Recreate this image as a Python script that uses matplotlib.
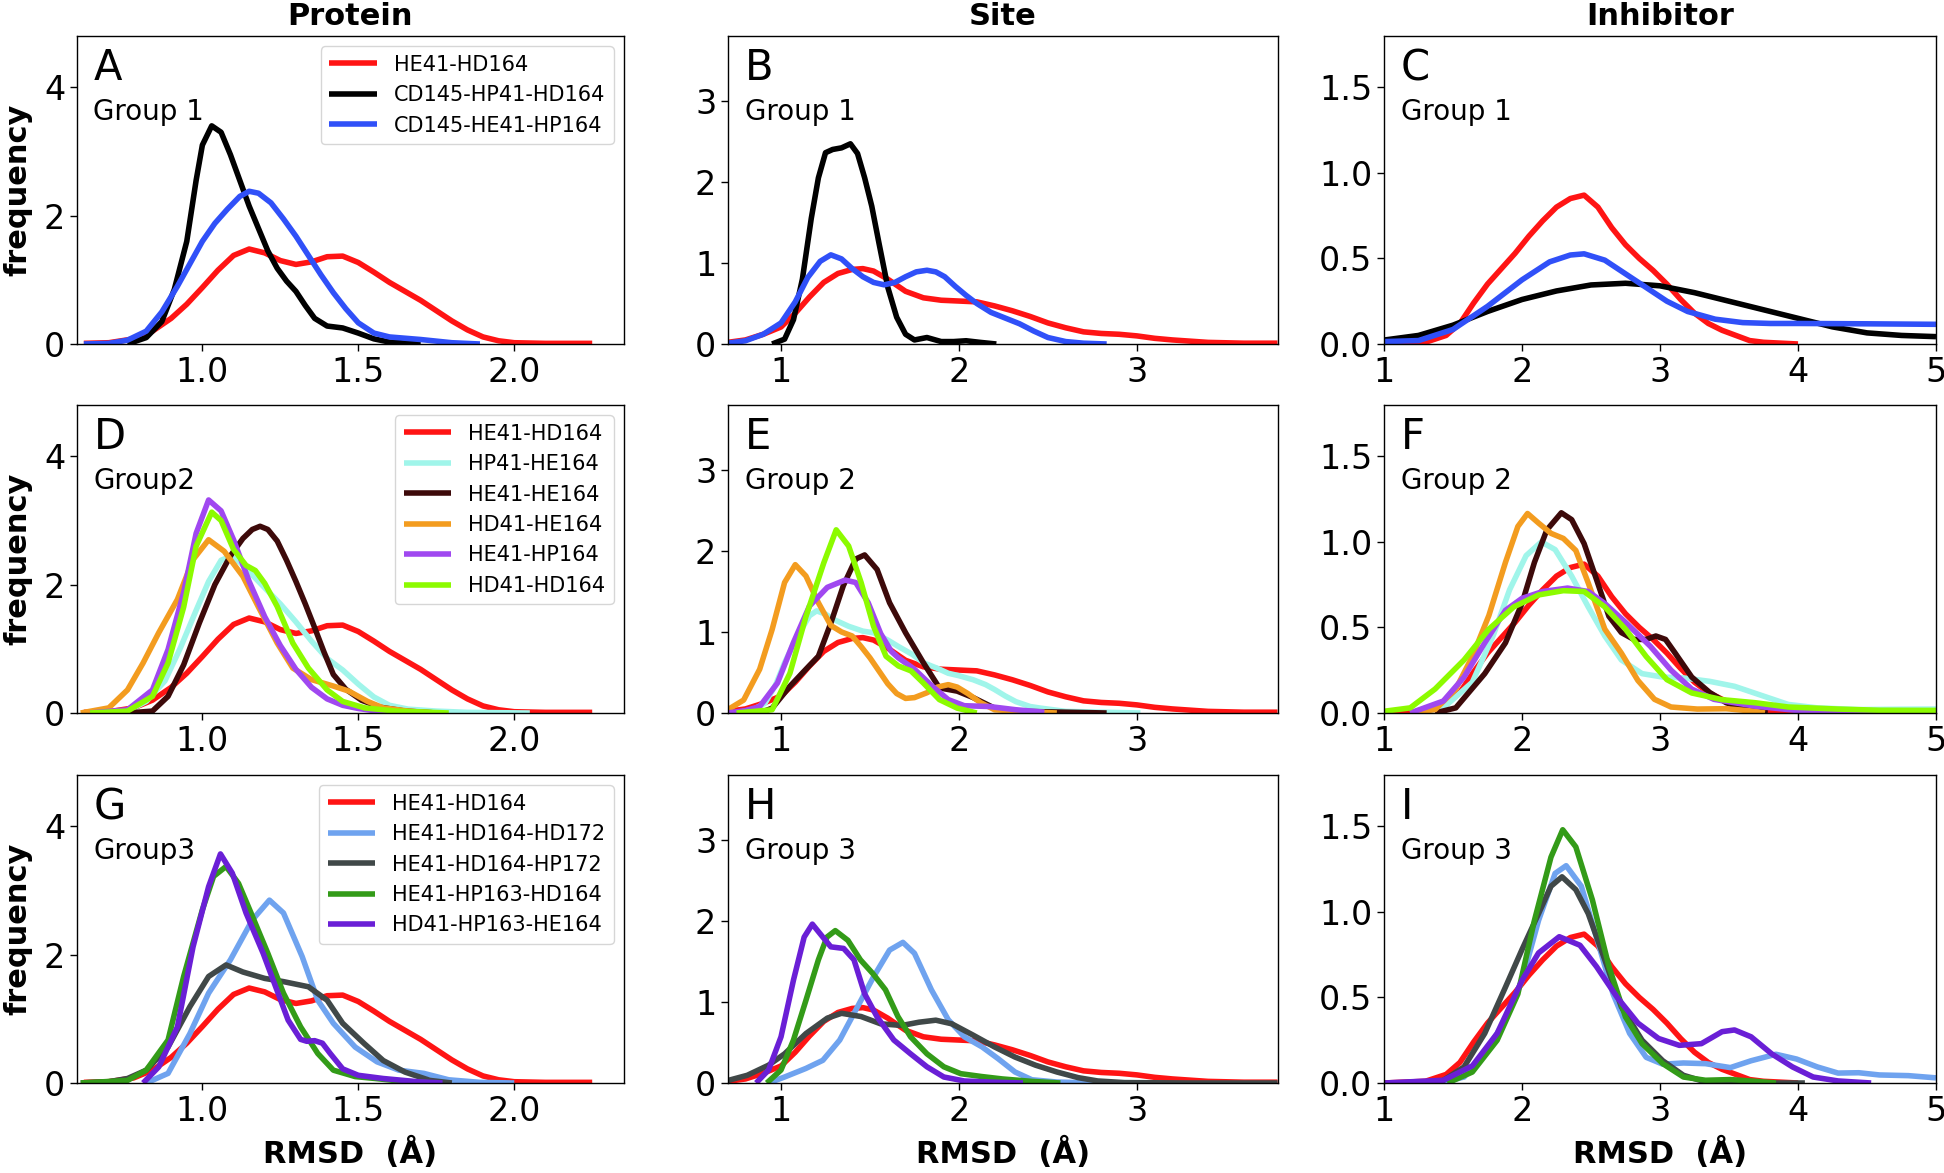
import matplotlib
matplotlib.use("Agg")
import matplotlib.pyplot as plt

# --- reference curve HE41-HD164, read per column ---
prot_ref_x = [0.62, 0.70, 0.78, 0.84, 0.90, 0.95, 1.00, 1.05, 1.10, 1.15, 1.20, 1.25, 1.30, 1.35, 1.40, 1.45,
              1.50, 1.55, 1.60, 1.65, 1.70, 1.75, 1.80, 1.85, 1.90, 1.95, 2.00, 2.10, 2.25]
prot_ref_y = [0.01, 0.02, 0.08, 0.20, 0.40, 0.62, 0.88, 1.15, 1.38, 1.48, 1.42, 1.30, 1.24, 1.28, 1.36, 1.37,
              1.27, 1.12, 0.96, 0.82, 0.68, 0.52, 0.36, 0.22, 0.11, 0.05, 0.02, 0.01, 0.01]
site_ref_x = [0.70, 0.80, 0.90, 1.00, 1.08, 1.16, 1.24, 1.32, 1.40, 1.46, 1.52, 1.60, 1.70, 1.80, 1.90, 2.00,
              2.10, 2.20, 2.30, 2.40, 2.50, 2.60, 2.70, 2.80, 2.90, 3.00, 3.10, 3.20, 3.40, 3.60, 3.79]
site_ref_y = [0.02, 0.05, 0.12, 0.21, 0.38, 0.58, 0.76, 0.87, 0.92, 0.93, 0.90, 0.80, 0.65, 0.57, 0.54, 0.53,
              0.52, 0.47, 0.41, 0.34, 0.26, 0.20, 0.15, 0.13, 0.12, 0.10, 0.07, 0.05, 0.02, 0.01, 0.01]
inh_ref_x = [1.0, 1.3, 1.45, 1.55, 1.65, 1.75, 1.85, 1.95, 2.05, 2.15, 2.25, 2.35, 2.45, 2.55, 2.65, 2.75,
             2.85, 2.95, 3.05, 3.15, 3.25, 3.35, 3.45, 3.55, 3.65, 3.75, 4.0]
inh_ref_y = [0.0, 0.01, 0.05, 0.12, 0.24, 0.35, 0.44, 0.53, 0.63, 0.72, 0.80, 0.85, 0.87, 0.80, 0.68, 0.58,
             0.50, 0.43, 0.35, 0.26, 0.18, 0.12, 0.08, 0.05, 0.02, 0.01, 0.0]

# --- group 1 ---
a_black_x = [0.76, 0.82, 0.87, 0.91, 0.95, 0.98, 1.00, 1.03, 1.06, 1.09, 1.12, 1.15, 1.18, 1.21, 1.24, 1.27,
             1.30, 1.33, 1.36, 1.40, 1.45, 1.50, 1.55, 1.60, 1.70]
a_black_y = [0.0, 0.1, 0.35, 0.85, 1.6, 2.55, 3.1, 3.40, 3.3, 2.95, 2.55, 2.15, 1.8, 1.45, 1.18, 0.98,
             0.82, 0.6, 0.4, 0.28, 0.25, 0.17, 0.08, 0.03, 0.0]
a_blue_x = [0.62, 0.70, 0.76, 0.82, 0.87, 0.92, 0.96, 1.00, 1.04, 1.08, 1.12, 1.15, 1.18, 1.22, 1.26, 1.30,
            1.34, 1.38, 1.42, 1.46, 1.50, 1.55, 1.60, 1.70, 1.80, 1.89]
a_blue_y = [0.0, 0.01, 0.06, 0.2, 0.5, 0.9, 1.25, 1.6, 1.88, 2.1, 2.3, 2.38, 2.35, 2.2, 1.95, 1.68,
            1.38, 1.08, 0.8, 0.55, 0.33, 0.17, 0.11, 0.07, 0.02, 0.0]
b_black_x = [0.95, 1.02, 1.07, 1.12, 1.17, 1.21, 1.25, 1.29, 1.34, 1.39, 1.43, 1.47, 1.51, 1.55, 1.60, 1.65,
             1.70, 1.75, 1.82, 1.90, 1.97, 2.04, 2.12, 2.21]
b_black_y = [0.0, 0.06, 0.3, 0.8, 1.55, 2.05, 2.36, 2.40, 2.42, 2.47, 2.35, 2.05, 1.7, 1.25, 0.7, 0.33,
             0.12, 0.05, 0.08, 0.03, 0.03, 0.04, 0.02, 0.0]
b_blue_x = [0.70, 0.80, 0.90, 1.00, 1.08, 1.15, 1.22, 1.28, 1.34, 1.40, 1.46, 1.52, 1.58, 1.64, 1.70, 1.76,
            1.82, 1.87, 1.92, 1.98, 2.04, 2.10, 2.18, 2.26, 2.34, 2.42, 2.50, 2.60, 2.70, 2.83]
b_blue_y = [0.01, 0.04, 0.12, 0.26, 0.52, 0.82, 1.02, 1.10, 1.05, 0.93, 0.83, 0.76, 0.73, 0.76, 0.83, 0.89,
            0.91, 0.89, 0.83, 0.71, 0.60, 0.50, 0.39, 0.32, 0.25, 0.16, 0.08, 0.03, 0.01, 0.0]
c_black_x = [1.0, 1.25, 1.5, 1.75, 2.0, 2.25, 2.5, 2.75, 3.0, 3.25, 3.5, 3.75, 4.0, 4.25, 4.5, 4.75, 5.0]
c_black_y = [0.023, 0.05, 0.11, 0.19, 0.26, 0.31, 0.345, 0.355, 0.34, 0.30, 0.25, 0.20, 0.15, 0.10, 0.065,
             0.05, 0.043]
c_blue_x = [1.0, 1.25, 1.5, 1.75, 2.0, 2.2, 2.35, 2.45, 2.6, 2.75, 2.9, 3.05, 3.2, 3.4, 3.6, 3.8, 4.0, 4.5, 5.0]
c_blue_y = [0.014, 0.02, 0.085, 0.22, 0.375, 0.48, 0.52, 0.527, 0.49, 0.41, 0.33, 0.25, 0.19, 0.145, 0.125,
            0.12, 0.12, 0.118, 0.115]

# --- group 2 ---
d_aqua_x = [0.64, 0.76, 0.82, 0.88, 0.93, 0.98, 1.02, 1.06, 1.09, 1.12, 1.16, 1.20, 1.25, 1.30, 1.35, 1.40,
            1.45, 1.50, 1.55, 1.60, 1.66, 1.75, 1.85, 2.05]
d_aqua_y = [0.0, 0.03, 0.18, 0.5, 1.02, 1.6, 2.05, 2.38, 2.44, 2.35, 2.15, 1.95, 1.7, 1.42, 1.12, 0.85,
            0.67, 0.45, 0.25, 0.12, 0.06, 0.03, 0.01, 0.0]
d_brown_x = [0.76, 0.84, 0.89, 0.94, 0.99, 1.04, 1.09, 1.13, 1.16, 1.185, 1.21, 1.24, 1.27, 1.30, 1.33, 1.36,
             1.39, 1.42, 1.46, 1.51, 1.57, 1.65, 1.75]
d_brown_y = [0.0, 0.03, 0.26, 0.75, 1.4, 2.0, 2.45, 2.72, 2.86, 2.91, 2.86, 2.68, 2.38, 2.05, 1.7, 1.33,
             0.95, 0.6, 0.37, 0.2, 0.09, 0.03, 0.0]
d_orange_x = [0.61, 0.70, 0.76, 0.81, 0.86, 0.92, 0.97, 1.02, 1.07, 1.13, 1.18, 1.24, 1.29, 1.35, 1.42, 1.47,
              1.53, 1.58, 1.66, 1.75]
d_orange_y = [0.0, 0.08, 0.36, 0.78, 1.25, 1.77, 2.39, 2.70, 2.52, 2.13, 1.65, 1.09, 0.70, 0.52, 0.42, 0.34,
              0.18, 0.08, 0.03, 0.0]
d_purple_x = [0.64, 0.76, 0.84, 0.89, 0.94, 0.98, 1.02, 1.06, 1.10, 1.15, 1.20, 1.25, 1.30, 1.35, 1.40, 1.45,
              1.50, 1.56, 1.65]
d_purple_y = [0.0, 0.05, 0.36, 0.99, 1.88, 2.8, 3.32, 3.15, 2.7, 2.05, 1.5, 1.05, 0.68, 0.40, 0.22, 0.12,
              0.07, 0.03, 0.0]
d_lime_x = [0.64, 0.76, 0.84, 0.89, 0.94, 0.98, 1.03, 1.06, 1.10, 1.14, 1.17, 1.20, 1.24, 1.29, 1.34, 1.40,
            1.45, 1.52, 1.62, 1.79]
d_lime_y = [0.0, 0.03, 0.26, 0.78, 1.65, 2.6, 3.13, 3.0, 2.55, 2.3, 2.22, 2.02, 1.66, 1.09, 0.70, 0.36,
            0.18, 0.08, 0.03, 0.0]
e_aqua_x = [0.75, 0.85, 0.91, 0.97, 1.02, 1.07, 1.12, 1.16, 1.20, 1.25, 1.30, 1.38, 1.46, 1.52, 1.60, 1.66,
            1.74, 1.80, 1.88, 1.94, 2.00, 2.08, 2.15, 2.20, 2.26, 2.32, 2.40, 2.46, 2.60, 2.80, 3.02]
e_aqua_y = [0.0, 0.05, 0.12, 0.35, 0.62, 0.85, 1.05, 1.2, 1.26, 1.22, 1.15, 1.07, 1.01, 0.99, 0.9, 0.82,
            0.72, 0.62, 0.55, 0.49, 0.46, 0.41, 0.35, 0.29, 0.21, 0.14, 0.08, 0.06, 0.02, 0.01, 0.0]
e_brown_x = [0.88, 0.95, 1.05, 1.14, 1.21, 1.28, 1.35, 1.42, 1.47, 1.54, 1.61, 1.70, 1.80, 1.89, 1.99, 2.08,
             2.20, 2.36, 2.60, 2.83]
e_brown_y = [0.0, 0.06, 0.33, 0.54, 0.70, 1.11, 1.57, 1.90, 1.95, 1.77, 1.36, 0.99, 0.62, 0.31, 0.27, 0.19,
             0.06, 0.02, 0.01, 0.0]
e_orange_x = [0.70, 0.79, 0.88, 0.95, 1.02, 1.08, 1.14, 1.21, 1.28, 1.34, 1.40, 1.45, 1.50, 1.55, 1.60, 1.65,
              1.70, 1.75, 1.82, 1.88, 1.94, 1.99, 2.05, 2.12, 2.20, 2.35, 2.55]
e_orange_y = [0.04, 0.16, 0.54, 1.03, 1.61, 1.83, 1.69, 1.36, 1.08, 1.0, 0.95, 0.82, 0.68, 0.52, 0.36, 0.24,
              0.18, 0.19, 0.25, 0.32, 0.35, 0.32, 0.24, 0.13, 0.04, 0.02, 0.0]
e_purple_x = [0.70, 0.80, 0.88, 0.98, 1.07, 1.16, 1.26, 1.36, 1.42, 1.49, 1.56, 1.62, 1.66, 1.75, 1.85, 1.94,
              2.03, 2.17, 2.32, 2.48]
e_purple_y = [0.0, 0.03, 0.08, 0.37, 0.87, 1.32, 1.55, 1.64, 1.61, 1.36, 0.98, 0.76, 0.68, 0.54, 0.33, 0.165,
              0.09, 0.08, 0.04, 0.01]
e_lime_x = [0.75, 0.95, 1.05, 1.14, 1.24, 1.31, 1.38, 1.45, 1.52, 1.59, 1.66, 1.73, 1.80, 1.89, 1.99, 2.10]
e_lime_y = [0.0, 0.04, 0.49, 1.19, 1.85, 2.26, 2.06, 1.61, 1.07, 0.70, 0.58, 0.52, 0.37, 0.165, 0.06, 0.0]
f_aqua_x = [1.19, 1.43, 1.64, 1.79, 1.91, 2.03, 2.14, 2.24, 2.36, 2.48, 2.60, 2.72, 2.87, 3.02, 3.17, 3.36,
            3.54, 3.72, 3.93, 4.14, 4.44, 4.75, 5.0]
f_aqua_y = [0.0, 0.03, 0.18, 0.45, 0.72, 0.92, 1.0, 0.955, 0.80, 0.62, 0.45, 0.31, 0.23, 0.21, 0.205, 0.185,
            0.156, 0.107, 0.05, 0.03, 0.02, 0.022, 0.023]
f_brown_x = [1.37, 1.52, 1.73, 1.88, 2.0, 2.09, 2.18, 2.285, 2.36, 2.45, 2.54, 2.63, 2.72, 2.81, 2.90, 2.97,
             3.04, 3.11, 3.23, 3.36, 3.48, 3.63, 3.78]
f_brown_y = [0.0, 0.03, 0.23, 0.41, 0.64, 0.88, 1.07, 1.17, 1.13, 0.99, 0.78, 0.565, 0.47, 0.43, 0.43, 0.45,
             0.43, 0.35, 0.21, 0.12, 0.06, 0.02, 0.0]
f_orange_x = [1.19, 1.37, 1.52, 1.64, 1.76, 1.88, 1.97, 2.04, 2.12, 2.21, 2.30, 2.39, 2.48, 2.60, 2.72, 2.84,
              2.96, 3.08, 3.27, 3.48, 3.69, 3.76]
f_orange_y = [0.0, 0.02, 0.14, 0.33, 0.57, 0.88, 1.09, 1.166, 1.11, 1.05, 1.02, 0.95, 0.76, 0.49, 0.35, 0.19,
              0.08, 0.035, 0.023, 0.025, 0.01, 0.0]
f_purple_x = [1.19, 1.43, 1.58, 1.73, 1.88, 2.0, 2.15, 2.33, 2.48, 2.60, 2.75, 2.93, 3.08, 3.23, 3.39, 3.54,
              3.69, 3.99, 4.29, 4.6]
f_purple_y = [0.0, 0.07, 0.21, 0.41, 0.60, 0.67, 0.71, 0.73, 0.71, 0.64, 0.53, 0.39, 0.25, 0.14, 0.08, 0.06,
              0.04, 0.015, 0.005, 0.0]
f_lime_x = [1.0, 1.19, 1.37, 1.58, 1.76, 1.94, 2.12, 2.30, 2.45, 2.60, 2.75, 2.90, 3.05, 3.23, 3.45, 3.69,
            3.93, 4.29, 4.59, 5.0]
f_lime_y = [0.01, 0.03, 0.14, 0.31, 0.49, 0.62, 0.69, 0.715, 0.71, 0.62, 0.49, 0.33, 0.195, 0.117, 0.078,
            0.06, 0.035, 0.023, 0.016, 0.015]

# --- group 3 ---
g_lblue_x = [0.82, 0.89, 0.96, 1.02, 1.09, 1.16, 1.215, 1.26, 1.32, 1.37, 1.42, 1.49, 1.56, 1.63, 1.71, 1.79,
             1.89, 2.0]
g_lblue_y = [0.0, 0.15, 0.77, 1.40, 1.92, 2.54, 2.85, 2.65, 1.97, 1.29, 0.93, 0.56, 0.33, 0.20, 0.15, 0.05,
             0.01, 0.0]
g_gray_x = [0.61, 0.70, 0.76, 0.82, 0.89, 0.96, 1.02, 1.076, 1.13, 1.20, 1.26, 1.34, 1.40, 1.45, 1.52, 1.58,
            1.65, 1.73, 1.80]
g_gray_y = [0.0, 0.02, 0.07, 0.2, 0.56, 1.19, 1.66, 1.84, 1.73, 1.63, 1.58, 1.50, 1.29, 0.93, 0.61, 0.35,
            0.17, 0.04, 0.0]
g_green_x = [0.61, 0.76, 0.82, 0.89, 0.94, 1.0, 1.036, 1.076, 1.116, 1.156, 1.21, 1.26, 1.315, 1.37, 1.42,
             1.49, 1.555, 1.634, 1.74]
g_green_y = [0.0, 0.04, 0.2, 0.67, 1.66, 2.70, 3.22, 3.375, 3.11, 2.65, 2.02, 1.40, 0.875, 0.46, 0.20,
             0.10, 0.07, 0.03, 0.0]
g_violet_x = [0.81, 0.86, 0.92, 0.97, 1.02, 1.058, 1.096, 1.14, 1.195, 1.235, 1.275, 1.315, 1.335, 1.36,
              1.385, 1.41, 1.45, 1.50, 1.58, 1.69, 1.77]
g_violet_y = [0.0, 0.25, 0.875, 2.12, 3.06, 3.57, 3.27, 2.65, 2.02, 1.5, 0.98, 0.68, 0.65, 0.66,
              0.62, 0.46, 0.22, 0.12, 0.07, 0.02, 0.0]
h_lblue_x = [0.93, 1.02, 1.14, 1.235, 1.33, 1.42, 1.52, 1.61, 1.685, 1.75, 1.845, 1.94, 2.03, 2.13, 2.22,
             2.315, 2.41, 2.55, 2.76]
h_lblue_y = [0.0, 0.074, 0.18, 0.28, 0.53, 0.90, 1.31, 1.64, 1.735, 1.60, 1.15, 0.78, 0.57, 0.445, 0.30,
             0.136, 0.04, 0.012, 0.0]
h_gray_x = [0.70, 0.81, 0.93, 1.02, 1.14, 1.26, 1.34, 1.45, 1.56, 1.68, 1.775, 1.87, 1.96, 2.08, 2.20, 2.315,
            2.43, 2.55, 2.67, 2.78, 2.93, 3.3, 3.79]
h_gray_y = [0.03, 0.095, 0.22, 0.36, 0.61, 0.80, 0.86, 0.82, 0.73, 0.71, 0.75, 0.775, 0.73, 0.59, 0.445, 0.32,
            0.22, 0.136, 0.066, 0.025, 0.005, 0.0, 0.0]
h_green_x = [0.92, 1.0, 1.07, 1.14, 1.21, 1.258, 1.305, 1.376, 1.446, 1.516, 1.587, 1.657, 1.728, 1.82, 1.915,
             2.01, 2.127, 2.244, 2.41, 2.57]
h_green_y = [0.0, 0.16, 0.53, 1.02, 1.52, 1.80, 1.88, 1.76, 1.52, 1.35, 1.15, 0.82, 0.57, 0.36, 0.20,
             0.115, 0.08, 0.05, 0.02, 0.0]
h_violet_x = [0.86, 0.93, 1.0, 1.07, 1.13, 1.176, 1.235, 1.28, 1.352, 1.41, 1.47, 1.54, 1.634, 1.728, 1.82,
              1.915, 2.03, 2.2, 2.36]
h_violet_y = [0.0, 0.16, 0.57, 1.27, 1.80, 1.96, 1.80, 1.68, 1.66, 1.52, 1.10, 0.815, 0.53, 0.36, 0.2,
              0.074, 0.025, 0.01, 0.0]
i_lblue_x = [1.4, 1.58, 1.73, 1.88, 2.0, 2.12, 2.24, 2.32, 2.43, 2.54, 2.66, 2.78, 2.90, 3.02, 3.17, 3.33,
             3.51, 3.66, 3.84, 3.99, 4.14, 4.29, 4.44, 4.59, 4.80, 5.0]
i_lblue_y = [0.0, 0.035, 0.17, 0.37, 0.60, 0.95, 1.225, 1.27, 1.15, 0.85, 0.52, 0.29, 0.15, 0.11, 0.117,
             0.113, 0.09, 0.13, 0.168, 0.14, 0.094, 0.058, 0.06, 0.047, 0.043, 0.03]
i_gray_x = [1.4, 1.58, 1.73, 1.88, 2.0, 2.12, 2.21, 2.29, 2.39, 2.48, 2.60, 2.72, 2.87, 3.02, 3.17, 3.33,
            3.6, 4.05]
i_gray_y = [0.0, 0.094, 0.29, 0.56, 0.78, 0.99, 1.15, 1.205, 1.13, 0.99, 0.72, 0.445, 0.25, 0.13, 0.045,
            0.006, 0.0, 0.0]
i_green_x = [1.46, 1.64, 1.82, 1.97, 2.09, 2.21, 2.295, 2.39, 2.51, 2.63, 2.75, 2.87, 3.02, 3.17, 3.33, 3.51,
             3.69, 3.84]
i_green_y = [0.0, 0.064, 0.25, 0.52, 0.95, 1.32, 1.48, 1.38, 1.07, 0.68, 0.386, 0.23, 0.113, 0.035, 0.016,
             0.02, 0.01, 0.0]
i_violet_x = [1.0, 1.43, 1.64, 1.82, 2.0, 2.12, 2.27, 2.42, 2.54, 2.69, 2.84, 2.99, 3.14, 3.30, 3.45, 3.54,
              3.66, 3.81, 3.96, 4.11, 4.29, 4.53]
i_violet_y = [0.0, 0.016, 0.10, 0.29, 0.60, 0.76, 0.855, 0.805, 0.68, 0.50, 0.35, 0.26, 0.22, 0.23, 0.30,
              0.31, 0.27, 0.17, 0.094, 0.035, 0.012, 0.0]

# labels and colours
g1_labels = ['HE41-HD164', 'CD145-HP41-HD164', 'CD145-HE41-HP164']
g1_colors = ['#ff1414', '#000000', '#3050f8']
g2_labels = ['HE41-HD164', 'HP41-HE164', 'HE41-HE164', 'HD41-HE164', 'HE41-HP164', 'HD41-HD164']
g2_colors = ['#ff1414', '#a0f5ea', '#3d0a0a', '#f39c1f', '#a048f0', '#8cfb00']
g3_labels = ['HE41-HD164', 'HE41-HD164-HD172', 'HE41-HD164-HP172', 'HE41-HP163-HD164', 'HD41-HP163-HE164']
g3_colors = ['#ff1414', '#6fa3ef', '#404848', '#339b18', '#6a1fd6']

panel_letters = ['A', 'B', 'C', 'D', 'E', 'F', 'G', 'H', 'I']
group_texts = ['Group 1', 'Group 1', 'Group 1', 'Group2', 'Group 2', 'Group 2', 'Group3', 'Group 3', 'Group 3']
col_titles = ['Protein', 'Site', 'Inhibitor']

panels = [
    [(prot_ref_x, prot_ref_y), (a_black_x, a_black_y), (a_blue_x, a_blue_y)],
    [(site_ref_x, site_ref_y), (b_black_x, b_black_y), (b_blue_x, b_blue_y)],
    [(inh_ref_x, inh_ref_y), (c_black_x, c_black_y), (c_blue_x, c_blue_y)],
    [(prot_ref_x, prot_ref_y), (d_aqua_x, d_aqua_y), (d_brown_x, d_brown_y), (d_orange_x, d_orange_y),
     (d_purple_x, d_purple_y), (d_lime_x, d_lime_y)],
    [(site_ref_x, site_ref_y), (e_aqua_x, e_aqua_y), (e_brown_x, e_brown_y), (e_orange_x, e_orange_y),
     (e_purple_x, e_purple_y), (e_lime_x, e_lime_y)],
    [(inh_ref_x, inh_ref_y), (f_aqua_x, f_aqua_y), (f_brown_x, f_brown_y), (f_orange_x, f_orange_y),
     (f_purple_x, f_purple_y), (f_lime_x, f_lime_y)],
    [(prot_ref_x, prot_ref_y), (g_lblue_x, g_lblue_y), (g_gray_x, g_gray_y), (g_green_x, g_green_y),
     (g_violet_x, g_violet_y)],
    [(site_ref_x, site_ref_y), (h_lblue_x, h_lblue_y), (h_gray_x, h_gray_y), (h_green_x, h_green_y),
     (h_violet_x, h_violet_y)],
    [(inh_ref_x, inh_ref_y), (i_lblue_x, i_lblue_y), (i_gray_x, i_gray_y), (i_green_x, i_green_y),
     (i_violet_x, i_violet_y)],
]
row_labels = [g1_labels, g2_labels, g3_labels]
row_colors = [g1_colors, g2_colors, g3_colors]

col_xlim = [(0.598, 2.352), (0.702, 3.793), (1.0, 5.0)]
col_ylim = [(0, 4.8), (0, 3.8), (0, 1.8)]
col_xticks = [[1.0, 1.5, 2.0], [1, 2, 3], [1, 2, 3, 4, 5]]
col_xticklabels = [['1.0', '1.5', '2.0'], ['1', '2', '3'], ['1', '2', '3', '4', '5']]
col_yticks = [[0, 2, 4], [0, 1, 2, 3], [0, 0.5, 1.0, 1.5]]
col_yticklabels = [['0', '2', '4'], ['0', '1', '2', '3'], ['0.0', '0.5', '1.0', '1.5']]

W, H = 1944, 1173
fig = plt.figure(figsize=(W / 100, H / 100), dpi=100)

col_left = [77, 728, 1384]
col_w = [547, 550, 552]
row_top = [36, 405, 775]
row_h = 308

for r in range(3):
    for c in range(3):
        k = r * 3 + c
        ax = fig.add_axes([col_left[c] / W, 1 - (row_top[r] + row_h) / H, col_w[c] / W, row_h / H])
        for (xs, ys), lab, col in zip(panels[k], row_labels[r], row_colors[r]):
            ax.plot(xs, ys, color=col, lw=4, label=lab, solid_capstyle='butt')
        ax.set_xlim(col_xlim[c])
        ax.set_ylim(col_ylim[c])
        ax.set_xticks(col_xticks[c])
        ax.set_xticklabels(col_xticklabels[c])
        ax.set_yticks(col_yticks[c])
        ax.set_yticklabels(col_yticklabels[c])
        ax.tick_params(labelsize=24, length=5, width=1)
        for s in ax.spines.values():
            s.set_linewidth(1.0)
        ax.text(0.03, 0.857, panel_letters[k], transform=ax.transAxes, fontsize=30)
        ax.text(0.03, 0.727, group_texts[k], transform=ax.transAxes, fontsize=20)
        if c == 0:
            ax.legend(loc='upper right', fontsize=15, handlelength=2.3)
            fig.text(18 / W, 1 - (row_top[r] + row_h / 2) / H, 'frequency', rotation=90,
                     fontsize=22, fontweight='bold', ha='center', va='center')
        if r == 0:
            ax.set_title(col_titles[c], fontsize=22, fontweight='bold', pad=8)
        if r == 2:
            fig.text((col_left[c] + col_w[c] / 2) / W, 1 - 1153 / H, 'RMSD  (Å)',
                     fontsize=22, fontweight='bold', ha='center', va='center')

fig.savefig('out.png', dpi=100)
